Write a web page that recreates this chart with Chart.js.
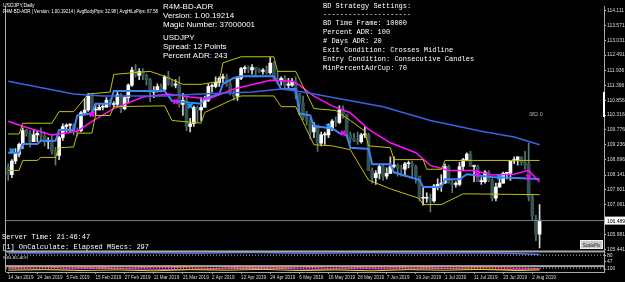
<!DOCTYPE html>
<html>
<head>
<meta charset="utf-8">
<script src="https://cdn.jsdelivr.net/npm/chart.js@4.4.1/dist/chart.umd.min.js"></script>
<style>
  html, body { margin: 0; padding: 0; background: #000; overflow: hidden; }
  canvas { display: block; }
</style>
</head>
<body>
<canvas id="c" width="625" height="282"></canvas>
<script>
// USDJPY daily, 14 Jan 2019 .. 6 Aug 2019 (147 bars), rows of 10 bars
const OPEN = [
  108.45,108.15,108.65,108.90,109.25,109.75,109.65,109.35,109.60,109.65,
  109.55,109.35,109.40,109.00,108.85,109.50,109.90,109.95,109.95,109.80,
  109.75,110.40,110.50,111.00,110.50,110.50,110.60,110.60,110.85,110.70,
  110.70,111.05,110.55,110.95,111.40,111.95,111.75,111.90,111.75,111.60,
  111.15,111.20,111.35,111.25,111.70,111.45,111.40,111.40,110.70,110.85,
  109.90,110.00,110.60,110.50,110.60,110.85,111.35,111.35,111.50,111.65,
  111.70,111.45,111.15,111.00,111.65,112.00,112.00,111.95,112.05,111.95,
  111.90,111.95,111.85,112.20,111.65,111.55,111.65,111.40,111.40,111.55,
  111.10,110.75,110.25,110.10,109.70,109.95,109.30,109.60,109.60,109.85,
  110.10,110.05,110.50,110.35,109.60,109.45,109.40,109.35,109.60,109.60,
  108.30,108.05,108.20,108.45,108.10,108.20,108.45,108.50,108.40,108.35,
  108.55,108.55,108.45,108.10,107.30,107.30,107.30,107.20,107.75,107.80,
  107.85,108.45,107.85,107.80,107.80,108.45,108.70,108.90,108.45,108.45,
  107.90,107.90,108.25,107.95,107.30,107.70,107.85,108.20,108.20,108.65,
  108.70,108.80,108.60,108.55,107.35,106.55,106.00
];
const HIGH = [
  108.55,108.70,109.10,109.30,109.85,109.80,109.75,109.80,109.75,109.85,
  109.70,109.50,109.60,109.15,109.55,110.00,110.00,110.00,110.00,109.85,
  110.45,110.90,111.10,111.10,110.70,110.70,110.70,110.95,110.90,110.80,
  111.15,111.10,111.00,111.45,112.05,112.15,112.00,112.00,111.80,111.65,
  111.35,111.45,111.45,111.75,111.90,111.60,111.60,111.70,111.10,111.00,
  110.20,110.65,110.65,110.95,111.00,111.45,111.45,111.70,111.70,111.80,
  111.80,111.60,111.20,111.70,112.05,112.10,112.10,112.15,112.05,112.00,
  112.00,112.10,112.40,112.25,111.90,111.70,111.75,111.65,111.65,111.70,
  111.10,111.00,110.45,110.20,110.05,109.95,109.70,109.70,110.00,110.15,
  110.25,110.65,110.65,110.35,109.70,109.65,109.70,109.65,109.90,109.65,
  108.40,108.30,108.50,108.50,108.40,108.80,108.80,108.55,108.50,108.60,
  108.65,108.65,108.50,108.10,107.70,107.50,107.45,107.80,108.00,108.15,
  108.55,108.50,107.95,107.90,108.60,108.75,108.95,109.00,108.50,108.50,
  108.05,108.30,108.30,108.00,107.85,108.05,108.25,108.25,108.65,108.80,
  108.80,108.80,109.00,109.30,107.45,106.68,107.07
];
const LOW = [
  107.95,108.05,108.55,108.80,109.10,109.55,109.15,109.35,109.35,109.40,
  109.20,109.10,108.90,108.50,108.70,109.40,109.70,109.70,109.60,109.55,
  109.70,110.35,110.45,110.40,110.30,110.50,110.50,110.60,110.60,110.60,
  110.65,110.40,110.50,110.75,111.35,111.70,111.60,111.60,111.40,110.80,
  110.95,111.15,111.15,111.20,111.40,111.35,111.30,110.60,110.30,109.75,
  109.70,109.90,110.05,110.10,110.60,110.80,111.15,111.30,111.35,111.50,
  111.35,111.05,110.85,110.85,111.60,111.85,111.85,111.80,111.70,111.85,
  111.80,111.80,111.80,111.60,111.45,111.40,111.25,111.30,111.35,110.90,
  110.30,110.15,109.95,109.45,109.50,109.00,109.20,109.25,109.50,109.75,
  109.90,110.00,110.20,109.50,109.30,109.35,109.25,109.30,109.50,108.30,
  107.85,107.80,108.00,107.95,108.00,108.20,108.40,108.10,108.10,108.10,
  108.40,108.05,107.85,107.20,107.05,107.15,106.80,107.15,107.60,107.55,
  107.85,107.85,107.50,107.70,107.75,108.30,108.65,108.45,107.90,107.90,
  107.80,107.85,107.90,107.20,107.20,107.70,107.85,108.00,107.95,108.55,
  108.50,108.50,108.35,107.20,106.50,105.76,105.50
];
const CLOSE = [
  108.15,108.65,108.90,109.25,109.75,109.65,109.35,109.60,109.65,109.55,
  109.35,109.40,109.00,108.85,109.50,109.90,109.95,109.95,109.80,109.75,
  110.40,110.50,111.00,110.50,110.50,110.60,110.60,110.85,110.70,110.70,
  111.05,110.55,110.95,111.40,111.95,111.75,111.90,111.75,111.60,111.15,
  111.20,111.35,111.25,111.70,111.45,111.40,111.40,110.70,110.85,109.90,
  110.00,110.60,110.50,110.60,110.85,111.35,111.35,111.50,111.65,111.70,
  111.45,111.15,111.00,111.65,112.00,112.00,111.95,112.05,111.95,111.90,
  111.95,111.85,112.20,111.65,111.55,111.65,111.40,111.40,111.55,111.10,
  110.75,110.25,110.10,109.70,109.95,109.30,109.60,109.60,109.85,110.10,
  110.05,110.50,110.35,109.60,109.45,109.40,109.35,109.60,109.60,108.30,
  108.05,108.20,108.45,108.10,108.20,108.45,108.50,108.40,108.35,108.55,
  108.55,108.45,108.10,107.30,107.30,107.30,107.20,107.75,107.80,107.85,
  108.45,107.85,107.80,107.80,108.45,108.70,108.90,108.45,108.45,107.90,
  107.90,108.25,107.95,107.30,107.70,107.85,108.20,108.20,108.65,108.70,
  108.80,108.60,108.50,107.35,106.65,106.00,106.49
];

// date axis: bar index -> label
const DATE_TICK_BARS = [0,8,16,24,32,40,48,56,64,72,80,88,96,104,112,120,128,136,144];
const DATE_LABELS = ["14 Jan 2019","24 Jan 2019","5 Feb 2019","15 Feb 2019","27 Feb 2019","11 Mar 2019",
  "21 Mar 2019","2 Apr 2019","12 Apr 2019","24 Apr 2019","6 May 2019","16 May 2019","28 May 2019",
  "7 Jun 2019","19 Jun 2019","1 Jul 2019","11 Jul 2019","23 Jul 2019","2 Aug 2019"];

const PRICE_TICKS = [114.111,113.571,113.031,112.491,111.936,111.396,110.856,110.316,109.776,
  109.236,108.696,108.141,107.601,107.061,105.981,105.441];
const BID = 106.489;

// indicator lines, [bar index, price] vertices
const UPPER_BAND = [[0,109.63],[3,109.63],[4,110.02],[12,110.02],[14,110.44],[18,110.44],[22,111.08],[28,111.15],
  [29,111.79],[39,111.90],[43,111.72],[48,111.43],[53,111.43],[58,111.54],[59,112.21],[64,112.43],[73,112.43],
  [74,111.90],[79,111.90],[84,110.55],[90,110.48],[94,110.12],[98,109.73],[99,109.20],[105,109.13],[106,108.70],
  [114,108.70],[115,108.35],[119,108.35],[120,108.67],[146,108.67]];
const LOWER_BAND = [[0,108.31],[3,108.31],[4,108.67],[8,108.67],[9,108.78],[13,108.78],[14,109.13],[18,109.16],
  [19,109.66],[23,109.66],[24,110.30],[28,110.30],[29,110.62],[43,110.65],[45,110.12],[53,110.02],[54,110.41],
  [62,110.90],[64,111.01],[73,111.01],[75,110.62],[79,110.62],[84,109.24],[89,109.20],[94,109.06],[99,107.96],
  [105,107.64],[113,107.29],[114,107.07],[119,107.07],[125,107.46],[146,107.43]];
const MID_LINE = [[0,108.95],[3,108.95],[4,109.27],[8,109.27],[9,109.38],[13,109.38],[14,109.77],[18,109.77],
  [19,110.30],[23,110.37],[24,110.73],[28,110.73],[29,111.19],[43,111.19],[45,110.83],[53,110.73],[54,110.92],
  [58,111.07],[59,111.45],[62,111.66],[64,111.72],[73,111.72],[75,111.26],[79,111.26],[80,110.37],[83,110.30],
  [84,109.91],[89,109.84],[91,109.66],[93,109.59],[94,109.13],[99,109.09],[100,108.53],[105,108.53],[106,108.24],
  [113,107.96],[114,107.71],[119,107.71],[120,107.99],[124,107.99],[126,108.17],[133,108.07],[146,108.00]];
const MA_FAST = [[0,110.09],[4,109.91],[12,109.59],[19,109.73],[23,110.09],[29,110.55],[37,110.97],[44,111.08],
  [50,110.97],[55,110.90],[62,111.26],[72,111.58],[78,111.54],[80,111.40],[84,111.00],[89,110.65],[94,110.40],
  [99,109.80],[105,109.31],[112,108.95],[116,108.49],[121,108.31],[128,108.31],[133,108.14],[139,108.17],
  [143,108.31],[146,107.89]];
const MA_SLOW = [[0,111.54],[18,111.08],[26,111.01],[43,111.01],[53,111.08],[67,111.15],[75,111.26],[81,111.15],
  [84,111.08],[103,110.62],[116,110.12],[130,109.73],[139,109.52],[146,109.24]];
const SELL_MARKS = [[23,110.34],[46,110.80],[92,109.66],[129,108.17],[143,108.07]];
const BUY_MARKS = [[1,109.02],[50,110.65],[88,109.91],[135,108.07]];

// sub window 1
const ADR_LINE = [[0,92],[6,93],[12,91],[20,93],[28,92],[36,94],[44,92],[52,90],[60,93],[68,94],[76,92],
  [84,90],[92,91],[100,93],[108,92],[116,90],[124,92],[132,91],[140,89],[146,84]];
const ADR_LEVEL = 80;
const ADR_TICKS = [80, 47];
// sub window 2
const CUP_RED = [[0,150],[8,170],[16,140],[24,160],[32,130],[40,165],[48,150],[56,120],[64,160],[72,140],
  [80,170],[88,130],[96,150],[104,140],[112,165],[120,130],[128,150],[136,140],[146,120]];
const CUP_YELLOW = [[0,60],[10,80],[20,50],[30,70],[40,40],[50,80],[60,60],[70,90],[80,50],[90,70],[100,40],
  [110,80],[120,60],[130,90],[140,50],[146,70]];
const CUP_MAGENTA = [[0,110],[12,90],[24,120],[36,100],[48,80],[60,110],[72,130],[84,90],[96,110],[108,100],
  [120,120],[132,80],[146,100]];
const CUP_LEVEL = 130;
const CUP_TICKS = [100];

const X_MIN = -0.6, X_MAX = 163.7;
const SANS = "'Liberation Sans', Arial, sans-serif";
const MONO = "'Liberation Mono', 'Courier New', monospace";

const xy = arr => arr.map(([x, y]) => ({ x, y }));
const flat = v => [{ x: X_MIN, y: v }, { x: X_MAX, y: v }];
const bull = i => CLOSE[i] >= OPEN[i];

const wicks = OPEN.map((o, i) => ({ x: i, y: [LOW[i], HIGH[i]] }));
const bodies = OPEN.map((o, i) => ({ x: i, y: [o, CLOSE[i]] }));

function line(data, color, width, axis, extra) {
  return Object.assign({ type: "line", data, borderColor: color, borderWidth: width, pointRadius: 0,
    tension: 0, yAxisID: axis || "y", order: 3 }, extra || {});
}
function marks(data, color) {
  return { type: "line", data: xy(data), showLine: false, pointStyle: "crossRot", pointRadius: 3,
    pointBorderWidth: 2, pointBorderColor: color, pointBackgroundColor: color, yAxisID: "y", order: 0 };
}

const mtFrame = {
  id: "mtFrame",
  beforeDraw(chart) {
    const c = chart.ctx;
    c.save(); c.fillStyle = "#000"; c.fillRect(0, 0, chart.width, chart.height); c.restore();
  },
  afterDraw(chart) {
    const c = chart.ctx, a = chart.chartArea, s = chart.scales;
    c.save();
    // window frames
    c.fillStyle = "#a8a8a8";
    c.fillRect(a.left - 1, a.top, 1, a.bottom - a.top);
    c.fillRect(a.left - 1, s.y.bottom - 1, a.right - a.left + 1, 2);
    c.fillRect(a.left - 1, s.y2.bottom - 1, a.right - a.left + 1, 2);
    c.fillStyle = "#ffffff";
    c.fillRect(a.right - 1, 92, 2, 25);

    // chart header
    c.fillStyle = "#ffffff";
    c.textBaseline = "alphabetic";
    c.font = "5px " + SANS;
    c.fillText("USDJPY,Daily", 3, 7);
    c.fillText("R4M-BD-ADR | Version: 1.00.19214 | AvgBodyPips: 32.98 | AvgHiLoPips: 67.58", 3, 13, 155);

    c.font = "8px " + SANS;
    ["R4M-BD-ADR", "Version: 1.00.19214", "Magic Number: 37000001"].forEach((t, i) => c.fillText(t, 163, 9 + i * 9));
    ["USDJPY", "Spread: 12 Points", "Percent ADR: 243"].forEach((t, i) => c.fillText(t, 163, 40 + i * 9));

    c.font = "7px " + MONO;
    ["BD Strategy Settings:", "---------------------", "BD Time Frame: 10000", "Percent ADR: 100",
     "# Days ADR: 20", "Exit Condition: Crosses Midline", "Entry Condition: Consecutive Candles",
     "MinPercentAdrCup: 70"].forEach((t, i) => c.fillText(t, 323, 7.5 + i * 8.9));
    c.fillText("Server Time: 21:46:47", 2, 239);
    c.fillText("[1] OnCalculate: Elapsed MSecs: 297", 2, 248.5);

    c.fillStyle = "#b0b0b0";
    c.font = "5.5px " + SANS;
    c.fillText("382.0", 529, 116);
    c.font = "4px " + SANS;
    c.fillStyle = "#d0d0d0";
    c.fillText("R4M-BD-ADR", 3, 259);

    // ScalePix button
    c.fillStyle = "#c8c8c8";
    c.fillRect(580, 240, 23, 9);
    c.strokeStyle = "#f0f0f0"; c.lineWidth = 1;
    c.strokeRect(580.5, 240.5, 22, 8);
    c.fillStyle = "#202020";
    c.font = "4.5px " + SANS;
    c.textAlign = "center";
    c.fillText("ScalePix", 591.5, 246.5);

    // bid price box
    const py = s.y.getPixelForValue(BID);
    c.fillStyle = "#ffffff";
    c.fillRect(a.right + 1, py - 4, 20, 8);
    c.fillStyle = "#000000";
    c.textAlign = "left";
    c.font = "5px " + SANS;
    c.fillText(BID.toFixed(3), a.right + 3, py + 2);
    c.restore();
  }
};

const axisFont = { size: 5, family: SANS };
const rightAxis = (stackWeight, min, max, ticks, fmt) => ({
  type: "linear", position: "right", stack: "win", stackWeight, min, max, offset: false,
  afterBuildTicks: sc => { sc.ticks = ticks.map(v => ({ value: v })); },
  afterFit: sc => { sc.width = 21; },
  ticks: { color: "#dcdcdc", font: axisFont, padding: 1, autoSkip: false, callback: fmt },
  grid: { drawOnChartArea: false, tickLength: 2, color: "#c8c8c8" },
  border: { color: "#a8a8a8" }
});

new Chart(document.getElementById("c"), {
  type: "bar",
  data: {
    datasets: [
      { type: "bar", data: wicks, yAxisID: "y", barThickness: 1, grouped: false, order: 10,
        backgroundColor: ctx => bull(ctx.dataIndex) ? "#d8d8d8" : "#5a7878" },
      { type: "bar", data: bodies, yAxisID: "y", barThickness: 3, grouped: false, order: 9, minBarLength: 1,
        backgroundColor: ctx => bull(ctx.dataIndex) ? "#ffffff" : "#365252" },
      line(flat(BID), "#808080", 1, "y", { order: 8 }),
      line(xy(MA_SLOW), "#3a62e6", 1.5),
      line(xy(UPPER_BAND), "#c2c200", 1),
      line(xy(LOWER_BAND), "#c2c200", 1),
      line(xy(MA_FAST), "#ff10ff", 1.5),
      line(xy(MID_LINE), "#3d85f5", 2),
      marks(SELL_MARKS, "#ff00ff"),
      marks(BUY_MARKS, "#22a0ff"),
      line(flat(ADR_LEVEL), "#c0c0c0", 1, "y2", { borderDash: [1, 2] }),
      line(xy(ADR_LINE), "#4a6ee8", 1.5, "y2"),
      line(flat(CUP_LEVEL), "#c0c0c0", 1, "y3", { borderDash: [1, 2] }),
      line(xy(CUP_YELLOW), "#e0e000", 1, "y3"),
      line(xy(CUP_MAGENTA), "#ff30ff", 1, "y3"),
      line(xy(CUP_RED), "#ff3030", 1, "y3")
    ]
  },
  options: {
    responsive: false,
    animation: false,
    events: [],
    layout: { padding: { left: 2, right: 0, top: 0, bottom: 0 } },
    plugins: { legend: { display: false }, tooltip: { enabled: false } },
    scales: {
      x: {
        type: "linear", min: X_MIN, max: X_MAX, offset: false,
        afterBuildTicks: sc => { sc.ticks = DATE_TICK_BARS.map(v => ({ value: v })); },
        afterFit: sc => { sc.height = 10; },
        ticks: { color: "#dcdcdc", font: { size: 4.6, family: SANS }, align: "start", maxRotation: 0,
          autoSkip: false, padding: 1, callback: (v, i) => DATE_LABELS[i] },
        grid: { drawOnChartArea: false, tickLength: 2, color: "#a8a8a8", offset: false },
        border: { color: "#a8a8a8" }
      },
      y: rightAxis(251, 105.37, 114.27, PRICE_TICKS, v => v.toFixed(3)),
      y2: rightAxis(15, 20, 100, ADR_TICKS, v => String(v)),
      y3: rightAxis(6, 0, 200, CUP_TICKS, v => String(v))
    }
  },
  plugins: [mtFrame]
});
</script>
</body>
</html>
